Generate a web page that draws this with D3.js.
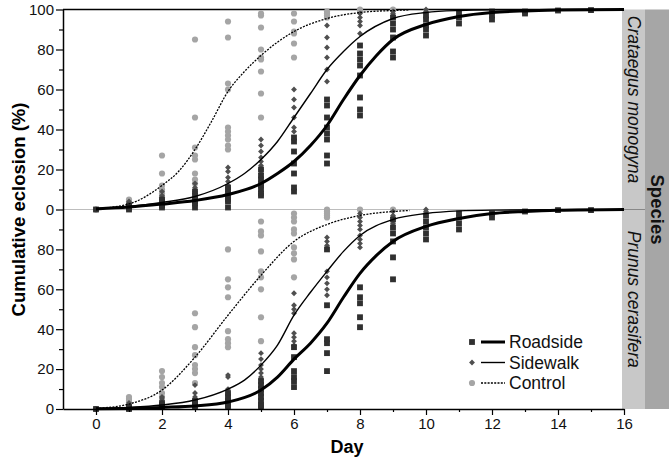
<!DOCTYPE html>
<html>
<head>
<meta charset="utf-8">
<script src="https://cdn.jsdelivr.net/npm/d3@7"></script>
<style>
  body { margin: 0; background: #fff; }
  svg { display: block; font-family: "Liberation Sans", Arial, sans-serif; }
</style>
</head>
<body>
<div class="chart"></div>
<script>
// cumulative eclosion by day, two host species, three site treatments
const days = [0,1,2,3,4,5,6,7,8,9,10,11,12,13,14,15]
const xTicks = [0,2,4,6,8,10,12,14,16]
const xMinorTicks = [1,3,5,7,9,11,13,15]
const treatments = ["Roadside","Sidewalk","Control"]
const species = ["Crataegus monogyna","Prunus cerasifera"]

// replicate points, one list per day (index = day)
const crataegusRoadside = [[0],[0,1,2],[1,2,3,4,5],[1,3,4,5,7,9],[1,4,5,6,8,10,11],[7,8,10,12,13,15,17,20],
  [9,11,18,23,29,34,36],[23,27,35,38,41,46,52,55],[47,50,56,67,72,75,78,82],[76,79,86,90,93,96],
  [87,90,92,95,97],[93,96,98],[95,97,99],[98,99],[99.5],[99.7]]
const crataegusSidewalk = [[0],[1,2,3,4],[3,4,5,7,9],[5,6,8,9,11,13],[7,8,9,10,12,14,16,19,21],[18,20,22,24,26,29,32,35],
  [39,41,46,51,55,60],[64,70,76,81,86,92],[88,92,94,96,98],[97,98,99],[99,100],[],[],[],[],[]]
const crataegusControl = [[0],[3,4,5],[6,8,10,12,18,27],[13,15,18,25,27,31,46,85],[30,32,35,37,39,41,60,63,86,94],
  [46,58,69,75,76,80,91,97,98],[76,83,88,89,94,98],[96,97,98,99],[99,100],[100],[],[],[],[],[],[]]

const prunusRoadside = [[0],[0,0.5,1],[1,2,3],[1,2,3,4],[1,2,3,4,6,8],[1,2,4,6,8,10,12,14],[11,14,16,19,26,31],
  [19,28,33,35,52,80],[41,46,53,56,61],[65,76,84,88,91,95],[85,88,91,94,97],[90,93,96,98],[96,98],[99],[99.7],[99.7]]
const prunusSidewalk = [[0],[1,2,3],[2,3,5,6],[3,4,5,6,8,12],[5,6,8,10,16,17],[15,16,18,20,22,25,28],
  [32,34,36,38,48,50,52,58],[57,60,63,66,69,82,84,86],[81,83,85,87,90,92,94,96,98],[93,96,97,99],[99,100],[],[],[],[],[]]
const prunusControl = [[0],[3,4,5,6],[6,8,11,13,16,19],[13,18,20,22,27,31,41,48],[31,33,35,39,56,61,65,80],
  [34,46,60,66,69,79,87,89,94],[66,75,78,81,88,90,94,96,98],[96,97,98,99,100],[100],[100],[],[],[],[],[],[]]

// fitted curves, [day, %]
const crataegusRoadsideFit = [[0,0.3],[1,1.2],[2,2.7],[3,4.5],[4,7.5],[5,13],[5.5,18],[6,24],[6.5,32],[7,42],[7.5,55],
  [8,67],[8.5,77],[9,85],[10,92.5],[11,96.5],[12,98.5],[13,99.3],[14,99.7],[16,100]]
const crataegusSidewalkFit = [[0,0.5],[1,1.5],[2,3.5],[3,6.5],[4,13],[4.5,18],[5,25],[5.5,34],[6,46],[6.5,58],[7,70],
  [7.5,79],[8,86.5],[9,95.5],[10,98.5],[11,99.5],[12,99.8],[15,100]]
const crataegusControlFit = [[0,0.4],[1,2.8],[2,12],[2.5,19],[3,30],[3.5,44],[4,59],[4.5,69],[5,77],[6,89],[7,95.5],
  [8,98.5],[9,99.5],[9.5,99.8]]

const prunusRoadsideFit = [[0,0.1],[1,0.3],[2,0.8],[3,1.5],[4,3.5],[5,9.5],[5.5,16],[6,25],[6.5,33],[7,43],[7.5,56],
  [8,68],[8.5,77],[9,84],[10,91.5],[11,95.5],[12,98],[13,99],[14,99.6],[16,100]]
const prunusSidewalkFit = [[0,0.2],[1,0.8],[2,2],[3,4.5],[4,10],[4.5,14.5],[5,22],[5.5,32],[6,47],[6.5,58.5],[7,69],
  [7.5,79],[8,87],[9,95],[10,98],[11,99.3],[12,99.7],[15,100]]
const prunusControlFit = [[0,0.3],[1,2.5],[2,9.5],[3,26],[4,47],[5,67],[6,84],[7,92.5],[8,97],[9,99],[9.5,99.5]]

const width = 669
const height = 462
const plotLeft = 63, plotRight = 622, plotTop = 9.5, plotMid = 209.5, plotBottom = 409

const x = d3.scaleLinear().domain([-1, 16]).range([plotLeft, 624])
const yTop = d3.scaleLinear().domain([0, 100]).range([plotMid, plotTop])
const yBottom = d3.scaleLinear().domain([0, 100]).range([plotBottom, plotMid])

const colour = d3.scaleOrdinal().domain(treatments).range(["#303030","#4f4f4f","#a5a5a5"])
const lineWidth = {"Roadside": 3, "Sidewalk": 1.4, "Control": 1.3}
const dash = {"Roadside": null, "Sidewalk": null, "Control": "2,1.3"}

const svg = d3.select(".chart").append("svg")
    .attr("width", width)
    .attr("height", height)

const panels = [
  {name: species[0], y: yTop, y0: plotTop, y1: plotMid, labels: [0,20,40,60,80,100],
   points: {"Roadside": crataegusRoadside, "Sidewalk": crataegusSidewalk, "Control": crataegusControl},
   fits: {"Roadside": crataegusRoadsideFit, "Sidewalk": crataegusSidewalkFit, "Control": crataegusControlFit}},
  {name: species[1], y: yBottom, y0: plotMid, y1: plotBottom, labels: [0,20,40,60,80],
   points: {"Roadside": prunusRoadside, "Sidewalk": prunusSidewalk, "Control": prunusControl},
   fits: {"Roadside": prunusRoadsideFit, "Sidewalk": prunusSidewalkFit, "Control": prunusControlFit}}
]

// strips on the right
svg.append("rect").attr("x", 645).attr("y", plotTop).attr("width", width - 645).attr("height", plotBottom - plotTop)
    .attr("fill", "#a6a6a6")
panels.forEach(function(p) {
  svg.append("rect").attr("x", plotRight).attr("y", p.y0).attr("width", 645 - plotRight).attr("height", p.y1 - p.y0)
      .attr("fill", "#c8c8c8")
  svg.append("text")
      .attr("transform", "translate(628," + ((p.y0 + p.y1) / 2 - 10) + ") rotate(90)")
      .attr("text-anchor", "middle")
      .attr("font-style", "italic")
      .attr("font-size", 17.5)
      .attr("fill", "#111")
      .text(p.name)
})
svg.append("line").attr("x1", plotRight).attr("x2", 645).attr("y1", plotMid).attr("y2", plotMid)
    .attr("stroke", "#888").attr("stroke-width", 1)
svg.append("text")
    .attr("transform", "translate(651," + plotMid + ") rotate(90)")
    .attr("text-anchor", "middle")
    .attr("font-weight", "bold")
    .attr("font-size", 18.5)
    .attr("fill", "#111")
    .text("Species")

// frame
svg.append("line").attr("x1", plotLeft).attr("x2", plotRight).attr("y1", plotTop).attr("y2", plotTop)
    .attr("stroke", "#000").attr("stroke-width", 1.5)
svg.append("line").attr("x1", plotLeft).attr("x2", plotRight).attr("y1", plotMid).attr("y2", plotMid)
    .attr("stroke", "#bdbdbd").attr("stroke-width", 1.2)

const symbolFor = {
  "Roadside": d3.symbol().type(d3.symbolSquare).size(34),
  "Sidewalk": d3.symbol().type(d3.symbolSquare).size(17),
  "Control": d3.symbol().type(d3.symbolCircle).size(30)
}
const rotateFor = {"Roadside": "", "Sidewalk": " rotate(45)", "Control": ""}

const line = d3.line().curve(d3.curveMonotoneX)

panels.forEach(function(p) {
  const g = svg.append("g")
  // points, lightest first
  treatments.slice().reverse().forEach(function(t) {
    const pts = []
    p.points[t].forEach(function(vals, i) {
      vals.forEach(function(v) { pts.push({day: days[i], value: v}) })
    })
    g.selectAll(".pt-" + t).data(pts).enter().append("path")
        .attr("class", "pt-" + t)
        .attr("d", symbolFor[t])
        .attr("transform", function(d) { return "translate(" + x(d.day) + "," + p.y(d.value) + ")" + rotateFor[t] })
        .attr("fill", colour(t))
  })
  treatments.slice().reverse().forEach(function(t) {
    line.x(function(d) { return x(d[0]) }).y(function(d) { return p.y(d[1]) })
    g.append("path")
        .datum(p.fits[t])
        .attr("d", line)
        .attr("fill", "none")
        .attr("stroke", "#000")
        .attr("stroke-width", lineWidth[t])
        .attr("stroke-dasharray", dash[t])
  })

  // y axis
  const major = svg.append("g")
      .attr("transform", "translate(" + plotLeft + ",0)")
      .call(d3.axisLeft(p.y).tickValues(p.labels).tickSize(7).tickSizeOuter(0).tickPadding(2))
  major.select(".domain").attr("stroke-width", 1.5)
  major.selectAll("text").attr("font-size", 15).attr("fill", "#111").attr("font-family", "Liberation Sans, Arial")
  major.selectAll("line").attr("stroke-width", 1.2)
  const minor = svg.append("g")
      .attr("transform", "translate(" + plotLeft + ",0)")
      .call(d3.axisLeft(p.y).tickValues([10,30,50,70,90]).tickSize(4).tickFormat(""))
  minor.select(".domain").remove()
  minor.selectAll("line").attr("stroke-width", 1.2)
})

// x axis
const xa = svg.append("g")
    .attr("transform", "translate(0," + plotBottom + ")")
    .call(d3.axisBottom(x).tickValues(xTicks).tickSize(6).tickSizeOuter(0).tickPadding(3))
xa.select(".domain").attr("stroke-width", 1.5)
xa.selectAll("text").attr("font-size", 15).attr("fill", "#111").attr("font-family", "Liberation Sans, Arial")
xa.selectAll("line").attr("stroke-width", 1.2)
const xm = svg.append("g")
    .attr("transform", "translate(0," + plotBottom + ")")
    .call(d3.axisBottom(x).tickValues(xMinorTicks).tickSize(3).tickFormat(""))
xm.select(".domain").remove()
xm.selectAll("line").attr("stroke-width", 1.2)

// titles
svg.append("text")
    .attr("x", 347).attr("y", 453)
    .attr("text-anchor", "middle")
    .attr("font-weight", "bold").attr("font-size", 18)
    .text("Day")
svg.append("text")
    .attr("transform", "translate(25," + plotMid + ") rotate(-90)")
    .attr("text-anchor", "middle")
    .attr("font-weight", "bold").attr("font-size", 18.5)
    .text("Cumulative eclosion (%)")

// legend
const legend = svg.selectAll(".legend").data(treatments).enter().append("g")
    .attr("class", "legend")
    .attr("transform", function(d, i) { return "translate(0," + (342 + i * 20.5) + ")" })
legend.append("path")
    .attr("d", function(d) { return symbolFor[d]() })
    .attr("transform", function(d) { return "translate(472,0)" + rotateFor[d] })
    .attr("fill", function(d) { return colour(d) })
legend.append("line")
    .attr("x1", 481).attr("x2", 505).attr("y1", 0).attr("y2", 0)
    .attr("stroke", "#000")
    .attr("stroke-width", function(d) { return lineWidth[d] })
    .attr("stroke-dasharray", function(d) { return dash[d] })
legend.append("text")
    .attr("x", 509).attr("y", 0).attr("dy", "0.35em")
    .attr("font-size", 17.5)
    .attr("fill", "#111")
    .text(function(d) { return d })
</script>
</body>
</html>
